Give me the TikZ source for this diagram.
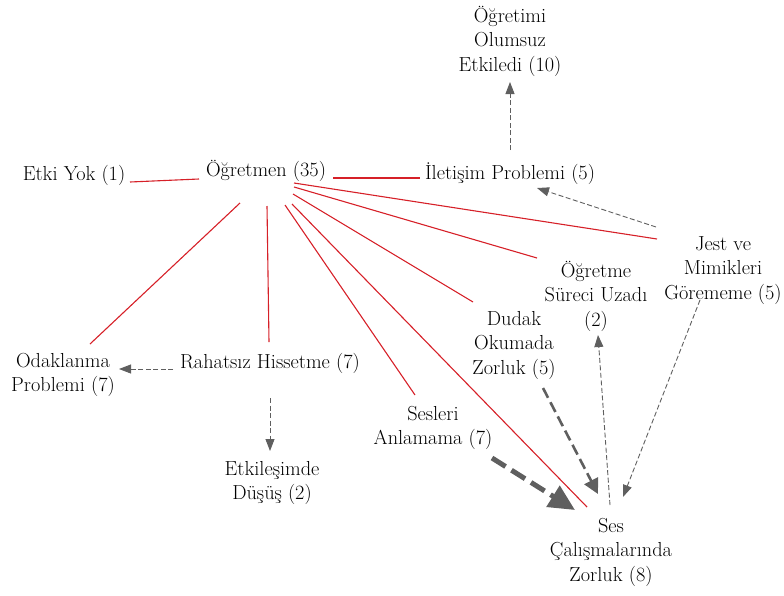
\documentclass[tikz,border=0pt]{standalone}
\usetikzlibrary{arrows.meta}
\definecolor{redline}{RGB}{214,32,40}
\definecolor{grayarr}{RGB}{95,95,95}
\newcommand\tsx{\rule{0pt}{19pt}}
\begin{document}
\begin{tikzpicture}[x=1pt,y=1pt,
  lbl/.style={anchor=north,inner sep=0pt,outer sep=0pt,align=center,
    font=\fontsize{20.3}{24.5}\selectfont,text=black},
  rl/.style={draw=redline,line width=1.1pt},
  da/.style={draw=grayarr,line width=0.9pt,dash pattern=on 5pt off 2.5pt,
    -{Triangle[length=12pt,width=9pt,fill=grayarr]}},
  dmid/.style={draw=grayarr,line width=2.6pt,dash pattern=on 11pt off 5pt,
    -{Triangle[length=15pt,width=15pt,fill=grayarr]}},
  dthick/.style={draw=grayarr,line width=5pt,dash pattern=on 16pt off 7pt,
    -{Triangle[length=26pt,width=24pt,fill=grayarr]}}]
\useasboundingbox (0,0) rectangle (784,-595);

% nodes
\node[lbl] (top)     at (510,-3)   {\tsx Öğretimi\\Olumsuz\\Etkiledi (10)};
\node[lbl] (ilet)    at (510,-160) {\tsx İletişim Problemi (5)};
\node[lbl] (ogr)     at (266,-157) {\tsx Öğretmen (35)};
\node[lbl] (etki)    at (74,-161)  {\tsx Etki Yok (1)};
\node[lbl] (jest)    at (723,-231) {\tsx Jest ve\\Mimikleri\\Görememe (5)};
\node[lbl] (ogrsur)  at (596,-258) {\tsx Öğretme\\Süreci Uzadı\\(2)};
\node[lbl] (dudak)   at (514,-306) {\tsx Dudak\\Okumada\\Zorluk (5)};
\node[lbl] (sesleri) at (433,-401) {\tsx Sesleri\\Anlamama (7)};
\node[lbl] (ses)     at (611,-513) {\tsx Ses\\Çalışmalarında\\Zorluk (8)};
\node[lbl] (odak)    at (63,-348)  {\tsx Odaklanma\\Problemi (7)};
\node[lbl] (rahat)   at (270,-349) {\tsx Rahatsız Hissetme (7)};
\node[lbl] (etkil)   at (272,-456) {\tsx Etkileşimde\\Düşüş (2)};

% red connectors
\draw[rl] ([shift={(-67,-22)}]ogr.north) -- ([shift={(56,-21)}]etki.north);
\draw[rl] ([shift={(67,-21)}]ogr.north)  -- ([shift={(-90,-18)}]ilet.north);
\draw[rl] ([shift={(-26,-46)}]ogr.north) -- ([shift={(27,4)}]odak.north);
\draw[rl] ([shift={(1,-49)}]ogr.north)   -- ([shift={(-1,7)}]rahat.north);
\draw[rl] ([shift={(19,-48)}]ogr.north)  -- ([shift={(-18,6)}]sesleri.north);
\draw[rl] ([shift={(26,-47)}]ogr.north)  -- ([shift={(-24,6)}]ses.north);
\draw[rl] ([shift={(27,-37)}]ogr.north)  -- ([shift={(-41,4)}]dudak.north);
\draw[rl] ([shift={(28,-30)}]ogr.north)  -- ([shift={(-59,0)}]ogrsur.north);
\draw[rl] ([shift={(28,-26)}]ogr.north)  -- ([shift={(-66,-8)}]jest.north);

% gray dashed arrows
\draw[da] ([shift={(0,10)}]ilet.north)     -- ([shift={(0,-79)}]top.north);
\draw[da] ([shift={(-67,4)}]jest.north)    -- ([shift={(27,-28)}]ilet.north);
\draw[da] ([shift={(-97,-20)}]rahat.north) -- ([shift={(56,-21)}]odak.north);
\draw[da] ([shift={(0,-49)}]rahat.north)   -- ([shift={(-2,5)}]etkil.north);
\draw[dthick] ([shift={(59,-57)}]sesleri.north) -- ([shift={(-36,3)}]ses.north);
\draw[dmid] ([shift={(29,-82)}]dudak.north) -- ([shift={(-13,19)}]ses.north);
\draw[da] ([shift={(-1,8)}]ses.north)      -- ([shift={(2,-77)}]ogrsur.north);
\draw[da] ([shift={(-23,-69)}]jest.north)  -- ([shift={(12,16)}]ses.north);
\end{tikzpicture}
\end{document}
